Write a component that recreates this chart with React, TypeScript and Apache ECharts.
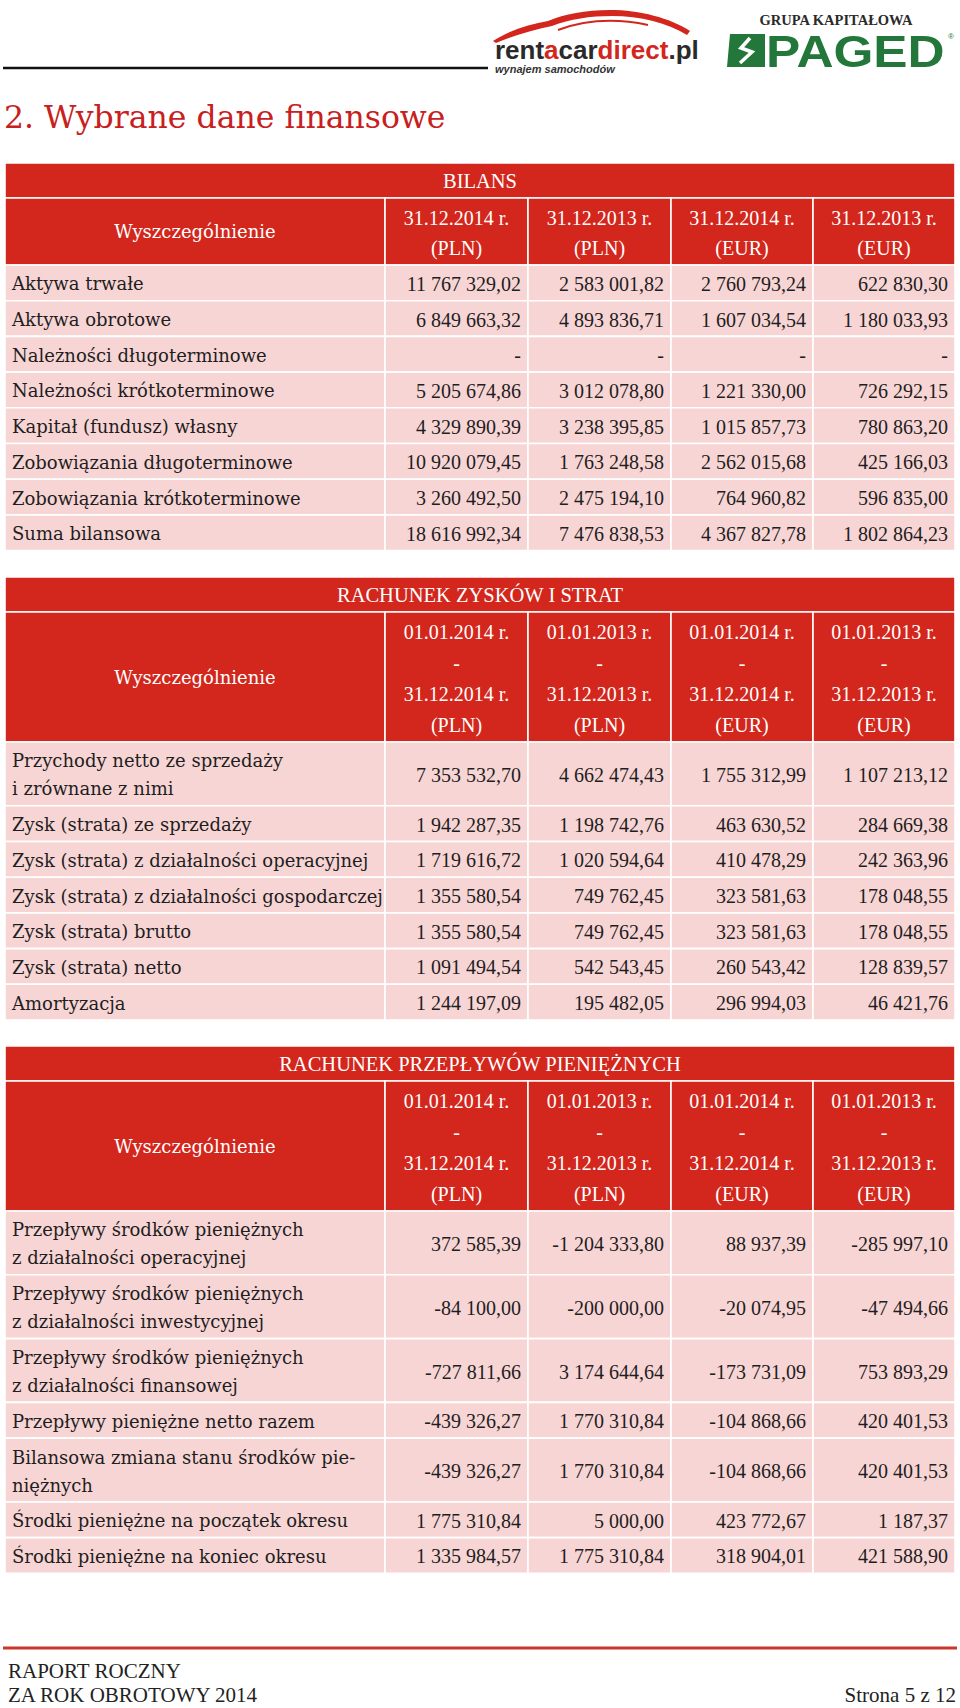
import React, { useEffect, useRef } from 'react';
import * as echarts from 'echarts';

// ---------------- data ----------------
const pageTitle = '2. Wybrane dane finansowe';

const bilansTitle = 'BILANS';
const bilansHeaders = ['31.12.2014 r.\n(PLN)', '31.12.2013 r.\n(PLN)', '31.12.2014 r.\n(EUR)', '31.12.2013 r.\n(EUR)'];
const bilansLabels = [
  'Aktywa trwałe',
  'Aktywa obrotowe',
  'Należności długoterminowe',
  'Należności krótkoterminowe',
  'Kapitał (fundusz) własny',
  'Zobowiązania długoterminowe',
  'Zobowiązania krótkoterminowe',
  'Suma bilansowa',
];
const bilansPln2014 = [11767329.02, 6849663.32, null, 5205674.86, 4329890.39, 10920079.45, 3260492.5, 18616992.34];
const bilansPln2013 = [2583001.82, 4893836.71, null, 3012078.8, 3238395.85, 1763248.58, 2475194.1, 7476838.53];
const bilansEur2014 = [2760793.24, 1607034.54, null, 1221330.0, 1015857.73, 2562015.68, 764960.82, 4367827.78];
const bilansEur2013 = [622830.3, 1180033.93, null, 726292.15, 780863.2, 425166.03, 596835.0, 1802864.23];

const periodHeaders = [
  '01.01.2014 r.\n-\n31.12.2014 r.\n(PLN)',
  '01.01.2013 r.\n-\n31.12.2013 r.\n(PLN)',
  '01.01.2014 r.\n-\n31.12.2014 r.\n(EUR)',
  '01.01.2013 r.\n-\n31.12.2013 r.\n(EUR)',
];

const rzisTitle = 'RACHUNEK ZYSKÓW I STRAT';
const rzisLabels = [
  'Przychody netto ze sprzedaży\ni zrównane z nimi',
  'Zysk (strata) ze sprzedaży',
  'Zysk (strata) z działalności operacyjnej',
  'Zysk (strata) z działalności gospodarczej',
  'Zysk (strata) brutto',
  'Zysk (strata) netto',
  'Amortyzacja',
];
const rzisPln2014 = [7353532.7, 1942287.35, 1719616.72, 1355580.54, 1355580.54, 1091494.54, 1244197.09];
const rzisPln2013 = [4662474.43, 1198742.76, 1020594.64, 749762.45, 749762.45, 542543.45, 195482.05];
const rzisEur2014 = [1755312.99, 463630.52, 410478.29, 323581.63, 323581.63, 260543.42, 296994.03];
const rzisEur2013 = [1107213.12, 284669.38, 242363.96, 178048.55, 178048.55, 128839.57, 46421.76];

const cashTitle = 'RACHUNEK PRZEPŁYWÓW PIENIĘŻNYCH';
const cashLabels = [
  'Przepływy środków pieniężnych\nz działalności operacyjnej',
  'Przepływy środków pieniężnych\nz działalności inwestycyjnej',
  'Przepływy środków pieniężnych\nz działalności finansowej',
  'Przepływy pieniężne netto razem',
  'Bilansowa zmiana stanu środków pie-\nniężnych',
  'Środki pieniężne na początek okresu',
  'Środki pieniężne na koniec okresu',
];
const cashPln2014 = [372585.39, -84100.0, -727811.66, -439326.27, -439326.27, 1775310.84, 1335984.57];
const cashPln2013 = [-1204333.8, -200000.0, 3174644.64, 1770310.84, 1770310.84, 5000.0, 1775310.84];
const cashEur2014 = [88937.39, -20074.95, -173731.09, -104868.66, -104868.66, 423772.67, 318904.01];
const cashEur2013 = [-285997.1, -47494.66, 753893.29, 420401.53, 420401.53, 1187.37, 421588.9];

const footerLeft = ['RAPORT ROCZNY', 'ZA ROK OBROTOWY 2014'];
const footerRight = 'Strona 5 z 12';

// ---------------- style / layout ----------------
const W = 960;
const H = 1708;
const NUM_FONT = '"Liberation Serif", "Times New Roman", serif';
const LBL_FONT = '"DejaVu Serif", serif';
const SANS = '"Liberation Sans", Arial, sans-serif';
const RED = '#d3261c';
const PINK = '#f8d5d5';
const INK = '#1e1e1e';
const GREEN = '#23773a';
const colX = [5, 385, 528, 671, 813, 955];

echarts.graphic.registerShape(
  'carSwoosh',
  echarts.graphic.extendPath(
    'M3 36 C20 25 40 19 58 16 C75 9 95 5 120 5 C150 5 180 13 200 26 L197 30 C178 18 150 11 122 11 C100 11 80 14 62 21 C42 25 22 31 6 38 Z',
    {}
  )
);
echarts.graphic.registerShape('carWindow', echarts.graphic.extendPath('M68 25 C95 15 125 13 158 20', {}));

function fmt(v: number | null): string {
  if (v === null || v === undefined) return '-';
  const neg = v < 0;
  const [i, d] = Math.abs(v).toFixed(2).split('.');
  const g = i.replace(/\B(?=(\d{3})+(?!\d))/g, ' ');
  return (neg ? '-' : '') + g + ',' + d;
}

function rect(x: number, y: number, w: number, h: number, fill: string) {
  return {
    type: 'rect',
    shape: { x, y, width: w, height: h },
    style: { fill, stroke: '#ffffff', lineWidth: 1.6 },
  };
}

function txt(x: number, y: number, text: string, o: any = {}) {
  const align = o.align || 'left';
  return {
    type: 'text',
    x,
    y,
    style: {
      text,
      x: 0,
      y: 0,
      fill: o.fill || INK,
      fontSize: o.size || 20,
      fontFamily: o.family || NUM_FONT,
      fontWeight: o.weight || 'normal',
      fontStyle: o.style || 'normal',
      align,
      textAlign: align,
      verticalAlign: 'middle',
      textVerticalAlign: 'middle',
      lineHeight: o.lh || undefined,
    },
  };
}

function buildTable(
  els: any[],
  top: number,
  title: string,
  headers: string[],
  headerH: number,
  headerLH: number,
  labels: string[],
  cols: (number | null)[][]
) {
  const x0 = colX[0];
  const x5 = colX[5];
  const titleH = 35;
  els.push(rect(x0, top, x5 - x0, titleH, RED));
  els.push(txt((x0 + x5) / 2, top + titleH / 2 + 0.5, title, { align: 'center', fill: '#ffffff', size: 20.5 }));
  let y = top + titleH;
  els.push(rect(colX[0], y, colX[1] - colX[0], headerH, RED));
  els.push(
    txt((colX[0] + colX[1]) / 2, y + headerH / 2, 'Wyszczególnienie', {
      align: 'center',
      fill: '#ffffff',
      family: LBL_FONT,
      size: 18,
    })
  );
  for (let i = 0; i < 4; i++) {
    els.push(rect(colX[i + 1], y, colX[i + 2] - colX[i + 1], headerH, RED));
    els.push(
      txt((colX[i + 1] + colX[i + 2]) / 2, y + headerH / 2 + 1, headers[i], {
        align: 'center',
        fill: '#ffffff',
        lh: headerLH,
      })
    );
  }
  y += headerH;
  labels.forEach((lab, r) => {
    const h = lab.indexOf('\n') >= 0 ? 63.8 : 35.7;
    for (let c = 0; c < 5; c++) {
      els.push(rect(colX[c], y, colX[c + 1] - colX[c], h, PINK));
    }
    els.push(txt(x0 + 7, y + h / 2 + 1, lab, { family: LBL_FONT, size: 18, lh: 28 }));
    for (let c = 0; c < 4; c++) {
      els.push(txt(colX[c + 2] - 7, y + h / 2 + 1, fmt(cols[c][r]), { align: 'right' }));
    }
    y += h;
  });
}

function buildElements() {
  const els: any[] = [];
  // ---- page header: logos ----
  els.push({
    type: 'line',
    shape: { x1: 3, y1: 68, x2: 488, y2: 68 },
    style: { stroke: '#111111', lineWidth: 2.5 },
  });
  els.push({ type: 'carSwoosh', x: 490, y: 5, style: { fill: RED } });
  els.push({ type: 'carWindow', x: 490, y: 5, style: { fill: 'none', stroke: RED, lineWidth: 2 } });
  els.push({
    type: 'text',
    x: 495,
    y: 50,
    style: {
      text: '{a|rent}{b|a}{a|car}{b|direct}{a|.pl}',
      x: 0,
      y: 0,
      verticalAlign: 'middle',
      textVerticalAlign: 'middle',
      rich: {
        a: { fill: '#2a2a2a', fontSize: 26, fontWeight: 'bold', fontFamily: SANS },
        b: { fill: RED, fontSize: 26, fontWeight: 'bold', fontFamily: SANS },
      },
    },
  });
  els.push(txt(495, 69, 'wynajem samochodów', { family: SANS, size: 11, weight: 'bold', style: 'italic', fill: '#333333' }));
  els.push(
    txt(836, 20, 'GRUPA KAPITAŁOWA', { align: 'center', size: 14.5, weight: 'bold', fill: '#2a2a2a' })
  );
  // PAGED emblem
  els.push({
    type: 'polygon',
    shape: { points: [[730, 34], [765, 34], [765, 67], [727, 67]] },
    style: { fill: GREEN },
  });
  els.push({
    type: 'polyline',
    shape: { points: [[750, 38], [741, 48], [752, 52], [740, 63]] },
    style: { stroke: '#ffffff', lineWidth: 3.5, fill: 'none' },
  });
  els.push({
    type: 'text',
    x: 766,
    y: 51,
    scaleX: 1.14,
    style: {
      text: 'PAGED',
      x: 0,
      y: 0,
      fill: GREEN,
      fontSize: 45,
      fontWeight: 'bold',
      fontFamily: SANS,
      verticalAlign: 'middle',
      textVerticalAlign: 'middle',
    },
  });
  els.push(txt(951, 36, '®', { family: SANS, size: 8, fill: GREEN, align: 'center' }));

  // ---- title ----
  els.push(txt(4, 117, pageTitle, { family: LBL_FONT, size: 31.5, fill: '#c8201e' }));

  // ---- tables ----
  buildTable(els, 163, bilansTitle, bilansHeaders, 67, 30, bilansLabels, [
    bilansPln2014,
    bilansPln2013,
    bilansEur2014,
    bilansEur2013,
  ]);
  buildTable(els, 577, rzisTitle, periodHeaders, 130, 31, rzisLabels, [rzisPln2014, rzisPln2013, rzisEur2014, rzisEur2013]);
  buildTable(els, 1046, cashTitle, periodHeaders, 130, 31, cashLabels, [cashPln2014, cashPln2013, cashEur2014, cashEur2013]);

  // ---- footer ----
  els.push({
    type: 'line',
    shape: { x1: 3, y1: 1648, x2: 957, y2: 1648 },
    style: { stroke: '#c9362c', lineWidth: 3 },
  });
  els.push(txt(8, 1671, footerLeft[0], { size: 21, fill: '#222222' }));
  els.push(txt(8, 1695, footerLeft[1], { size: 21, fill: '#222222' }));
  els.push(txt(956, 1695, footerRight, { size: 21, fill: '#222222', align: 'right' }));
  return els;
}

export default function App() {
  const ref = useRef<HTMLDivElement>(null);
  useEffect(() => {
    document.body.style.margin = '0';
    const chart = echarts.init(ref.current as HTMLDivElement, null, { renderer: 'svg', width: W, height: H });
    chart.setOption({
      animation: false,
      backgroundColor: '#ffffff',
      graphic: { elements: buildElements() },
    });
    return () => chart.dispose();
  }, []);
  return <div ref={ref} style={{ position: 'absolute', left: 0, top: 0, width: W, height: H }} />;
}
